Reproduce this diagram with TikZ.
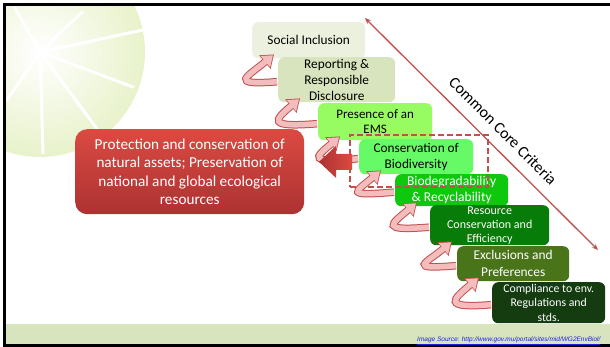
\documentclass[tikz,border=0pt]{standalone}
\usepackage{fontspec}
\setmainfont{Carlito}
\newfontfamily\linkfont{Liberation Sans}
\usetikzlibrary{positioning, arrows.meta}
\definecolor{colorleaf}{HTML}{E8F2CA}
\definecolor{colorfooter}{HTML}{D7E4BD}
\definecolor{colorsocial}{HTML}{EBF1DE}
\definecolor{colorreport}{HTML}{D7E4BD}
\definecolor{colorems}{HTML}{96FC62}
\definecolor{colorbiodiv}{HTML}{66FA66}
\definecolor{colorbiodeg}{HTML}{0DC80D}
\definecolor{colorresource}{HTML}{087C08}
\definecolor{colorexclude}{HTML}{4A7419}
\definecolor{colorcomply}{HTML}{153C10}
\definecolor{colorredtop}{HTML}{DB4A42}
\definecolor{colorredbot}{HTML}{AC3232}
\definecolor{colorline}{HTML}{C0504D}
\definecolor{colorpink}{HTML}{F3BDBD}
\definecolor{colorlink}{HTML}{1F1FE0}

\begin{document}
\begin{tikzpicture}[
    x=1pt, y=-1pt,
    % one step of the staircase
    crit/.style={
        rectangle,
        rounded corners=6pt,
        anchor=north west,
        align=center,
        inner sep=0pt,
        text=black,
        font=\fontsize{13.3}{16}\selectfont
    },
    % the large red outcome box
    protectbox/.style={
        rectangle,
        rounded corners=12pt,
        anchor=north west,
        align=center,
        inner sep=0pt,
        top color=colorredtop,
        bottom color=colorredbot,
        text=white,
        font=\fontsize{15.2}{18.3}\selectfont
    },
    % dashed highlight frame
    focusbox/.style={
        rectangle,
        anchor=north west,
        draw=colorline,
        line width=1.8pt,
        dash pattern=on 6pt off 3pt
    },
    % pink ribbon arrows between the steps
    curvy/.style={
        draw=colorpink,
        line width=5.5pt,
        -{Triangle[length=10pt, width=14pt]},
        shorten >=1.3pt,
        preaction={draw=colorline, line width=7.5pt,
            -{Triangle[length=12pt, width=17pt]}, shorten >=0pt}
    },
    ccline/.style={
        {Stealth[length=6pt, width=5pt]}-{Stealth[length=6pt, width=5pt]},
        colorline,
        line width=1.3pt
    },
    vein/.style={white, line width=3pt, line cap=round}
]
\useasboundingbox (0,0) rectangle (610,347);

% ==============================
% Slide background
% ==============================
\begin{scope}
    \clip (6,6) rectangle (610,324);
    \shade[inner color=white, outer color=colorleaf] (40,52) circle (105pt);
    \foreach \tx/\ty in {82/12, 143/30, 133/87, 100/133, 43/153, 7/100, 15/8}
        \draw[vein] (40,52) -- (\tx,\ty);
\end{scope}
\fill[colorfooter] (6,324) rectangle (610,344);
\draw[line width=3pt] (610,4.5) -- (4.5,4.5) -- (4.5,345.5) -- (610,345.5);

% ==============================
% Staircase of criteria
% ==============================
\node[crit, fill=colorsocial, minimum width=113pt, minimum height=36pt]
    (social) at (252,22) {Social Inclusion};
\node[crit, fill=colorreport, minimum width=117pt, minimum height=45pt]
    (report) at (278,57) {Reporting \&\\Responsible\\Disclosure};
\node[crit, fill=colorems, minimum width=114pt, minimum height=37pt, font=\fontsize{13}{15.5}\selectfont]
    (ems) at (318,103) {Presence of an\\EMS};
\node[crit, fill=colorbiodiv, minimum width=114pt, minimum height=35pt]
    (biodiv) at (359,139) {Conservation of\\Biodiversity};
\node[crit, fill=colorbiodeg, minimum width=113pt, minimum height=32pt, text=white, font=\fontsize{13.5}{16}\selectfont]
    (biodeg) at (395,174) {Biodegradability\\\& Recyclability};
\node[crit, fill=colorresource, minimum width=119pt, minimum height=40pt, text=white, font=\fontsize{12}{14}\selectfont]
    (resource) at (430,205) {Resource\\Conservation and\\Efficiency};
\node[crit, fill=colorexclude, minimum width=112pt, minimum height=35pt, text=white, font=\fontsize{13.4}{17}\selectfont]
    (exclude) at (457,246) {Exclusions and\\Preferences};
\node[crit, fill=colorcomply, minimum width=113pt, minimum height=41pt, text=white, font=\fontsize{11.8}{14.5}\selectfont]
    (comply) at (492,282) {Compliance to env.\\Regulations and\\stds.};

% ==============================
% Outcome box and highlight
% ==============================
\node[protectbox, minimum width=229pt, minimum height=85pt] (protect) at (75,129)
    {Protection and conservation of\\natural assets; Preservation of\\national and global ecological\\resources};

\node[focusbox, minimum width=138pt, minimum height=52pt] (focus) at (349,134) {};

% ==============================
% Arrows
% ==============================
\foreach \stepfrom/\stepto in {report/social, ems/report, biodiv/ems, biodeg/biodiv,
        resource/biodeg, exclude/resource, comply/exclude}
    \draw[curvy] ([shift={(-1,2)}]\stepfrom.west)
        .. controls +(-50,4) and +(-26,22) .. ([shift={(22,-4)}]\stepto.south west);

% block arrow from the highlight to the outcome box
\path[left color=colorredbot, right color=colorredtop]
    ([shift={(-30,1)}]focus.west) -- ++(17,-16) -- ++(0,8) -- ++(16,0)
    -- ++(0,16) -- ++(-16,0) -- ++(0,8) -- cycle;

% common core criteria axis
\coordinate (cctop) at (365,18);
\coordinate (ccbot) at (598,250);
\draw[ccline] (cctop) -- (ccbot);
\node[rotate=-45, font=\fontsize{16}{19}\selectfont] (cclabel) at (503,131) {Common Core Criteria};

% ==============================
% Footer
% ==============================
\node[anchor=base west, inner sep=0pt, text=colorlink, font=\linkfont\itshape\fontsize{6.5}{7}\selectfont]
    (source) at (417,341) {\underline{Image Source: http://www.gov.mu/portal/sites/mid/WG2EnvBiol/}};

\end{tikzpicture}
\end{document}
